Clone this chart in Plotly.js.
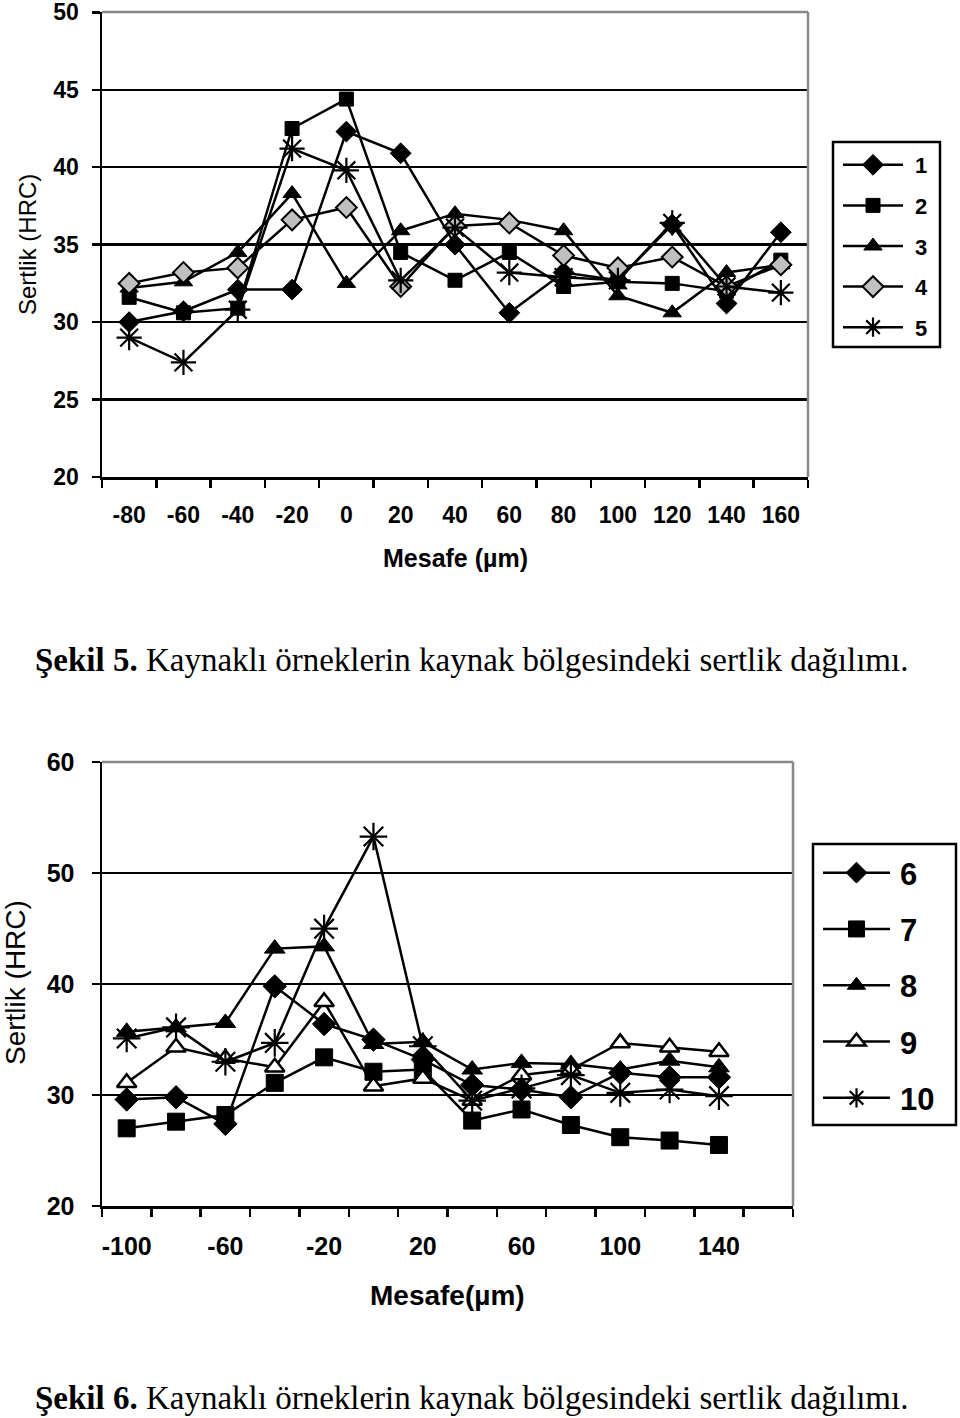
<!DOCTYPE html>
<html><head><meta charset="utf-8">
<script src="https://cdn.plot.ly/plotly-3.0.1.min.js"></script>
<style>html,body{margin:0;padding:0;background:#fff}</style>
</head><body><div id="chart" style="width:960px;height:1418px"></div>
<script>
// ---- Figure 5 data ----
const xTop = [-80,-60,-40,-20,0,20,40,60,80,100,120,140,160];
const s1 = [30.0,30.7,32.1,32.1,42.3,40.9,35.0,30.6,33.2,32.7,36.3,31.2,35.8];
const s2 = [31.6,30.6,30.9,42.5,44.4,34.5,32.7,34.5,32.3,32.6,32.5,32.0,34.0];
const s3 = [32.2,32.6,34.5,38.3,32.5,35.9,37.0,36.6,35.9,31.7,30.6,33.2,33.7];
const s4 = [32.5,33.2,33.5,36.6,37.4,32.3,36.2,36.4,34.3,33.5,34.2,32.3,33.7];
const s5 = [29.0,27.4,30.8,41.2,39.8,32.7,36.1,33.2,32.9,32.7,36.4,32.3,31.9];
const namesTop = ["1","2","3","4","5"];
const yTicksTop = [20,25,30,35,40,45,50];

// ---- Figure 6 data ----
const xBot = [-100,-80,-60,-40,-20,0,20,40,60,80,100,120,140];
const s6 = [29.6,29.8,27.4,39.8,36.4,35.0,33.2,30.9,30.5,29.8,32.0,31.6,31.6];
const s7 = [27.0,27.6,28.2,31.1,33.4,32.1,32.3,27.7,28.7,27.3,26.2,25.9,25.5];
const s8 = [35.7,36.1,36.5,43.2,43.4,34.6,34.8,32.3,32.9,32.8,32.3,33.1,32.5];
const s9 = [31.1,34.3,33.3,32.5,38.4,30.8,31.5,29.5,31.8,32.3,34.7,34.3,33.9];
const s10 = [35.1,36.1,33.0,34.7,45.0,53.3,34.4,29.5,30.6,31.8,30.2,30.5,29.9];
const namesBot = ["6","7","8","9","10"];
const xBotLabels = [-100,-60,-20,20,60,100,140];
const yTicksBot = [20,30,40,50,60];

const W = 960, H = 1418;
const px = v => v / W;
const py = v => (H - v) / H;

const sans = "Liberation Sans, Arial, sans-serif";
const serif = "Liberation Serif, Times New Roman, serif";

const stylesTop = [
  {symbol:"diamond", size:16, color:"#000", line:{color:"#000", width:1}},
  {symbol:"square", size:14, color:"#000", line:{color:"#000", width:1}},
  {symbol:"triangle-up", size:16, color:"#000", line:{color:"#000", width:1}},
  {symbol:"diamond", size:16, color:"#c0c0c0", line:{color:"#000", width:2}},
  {symbol:"asterisk-open", size:21, color:"#000", line:{color:"#000", width:2.2}}
];
const stylesBot = [
  {symbol:"diamond", size:18, color:"#000", line:{color:"#000", width:1}},
  {symbol:"square", size:17, color:"#000", line:{color:"#000", width:1}},
  {symbol:"triangle-up", size:18, color:"#000", line:{color:"#000", width:1}},
  {symbol:"triangle-up", size:17, color:"#fff", line:{color:"#000", width:2.5}},
  {symbol:"asterisk-open", size:23, color:"#000", line:{color:"#000", width:2.2}}
];

const traces = [];
[s1,s2,s3,s4,s5].forEach((s,i) => traces.push({
  x: xTop, y: s, name: namesTop[i], type: "scatter", mode: "lines+markers",
  xaxis: "x", yaxis: "y", legend: "legend", legendgroup: "t"+i,
  line: {color:"#000", width:2.5}, marker: stylesTop[i]
}));
[s6,s7,s8,s9,s10].forEach((s,i) => traces.push({
  x: xBot, y: s, name: namesBot[i], type: "scatter", mode: "lines+markers",
  xaxis: "x2", yaxis: "y2", legend: "legend2", legendgroup: "b"+i,
  line: {color:"#000", width:2.5}, marker: stylesBot[i]
}));

const axBase = {
  showline: true, linecolor: "#000", linewidth: 2.5, zeroline: false,
  color: "#000"
};

const layout = {
  width: W, height: H,
  margin: {l:0, r:0, t:0, b:0},
  paper_bgcolor: "#fff", plot_bgcolor: "#fff",
  showlegend: true,
  xaxis: Object.assign({}, axBase, {
    domain: [px(102), px(808)], anchor: "y", range: [-90, 170],
    tickmode: "array", tickvals: xTop, ticktext: xTop.map(String),
    ticks: "", showgrid: false,
    ticklabelstandoff: 16,
    tickfont: {family: sans, size: 23, color: "#000", weight: "bold"},
    minor: {ticks: "outside", tickmode: "linear", tick0: -90, dtick: 20,
            ticklen: 8, tickwidth: 2.5, tickcolor: "#000", showgrid: false}
  }),
  yaxis: Object.assign({}, axBase, {
    domain: [py(477), py(12)], anchor: "x", range: [20, 50.02],
    tickmode: "array", tickvals: yTicksTop, ticks: "outside", ticklen: 8,
    tickwidth: 2.5, tickcolor: "#000", ticklabeloverflow: "allow",
    showgrid: true, gridcolor: "#000", gridwidth: 2.5,
    ticklabelstandoff: 8,
    tickfont: {family: sans, size: 23, color: "#000", weight: "bold"}
  }),
  xaxis2: Object.assign({}, axBase, {
    domain: [px(102), px(793)], anchor: "y2", range: [-110, 170],
    tickmode: "array", tickvals: xBotLabels, ticktext: xBotLabels.map(String),
    ticks: "", showgrid: false,
    ticklabelstandoff: 16,
    tickfont: {family: sans, size: 25, color: "#000", weight: "bold"},
    minor: {ticks: "outside", tickmode: "linear", tick0: -110, dtick: 20,
            ticklen: 8, tickwidth: 2.5, tickcolor: "#000", showgrid: false}
  }),
  yaxis2: Object.assign({}, axBase, {
    domain: [py(1206), py(762)], anchor: "x2", range: [20, 60.02],
    tickmode: "array", tickvals: yTicksBot, ticks: "outside", ticklen: 8,
    tickwidth: 2.5, tickcolor: "#000", ticklabeloverflow: "allow",
    showgrid: true, gridcolor: "#000", gridwidth: 2.5,
    ticklabelstandoff: 12,
    tickfont: {family: sans, size: 25, color: "#000", weight: "bold"}
  }),
  legend: {
    x: px(835), y: py(144), xanchor: "left", yanchor: "top",
    borderwidth: 0, bgcolor: "rgba(0,0,0,0)",
    traceorder: "grouped", tracegroupgap: 9, itemwidth: 70,
    font: {family: sans, size: 22, color: "#000", weight: "bold"}
  },
  legend2: {
    x: px(815), y: py(846), xanchor: "left", yanchor: "top",
    borderwidth: 0, bgcolor: "rgba(0,0,0,0)",
    traceorder: "grouped", tracegroupgap: 13, itemwidth: 75,
    font: {family: sans, size: 31, color: "#000", weight: "bold"}
  },
  shapes: [
    {type:"line", xref:"x domain", yref:"y domain", x0:1, x1:1, y0:0, y1:1, line:{color:"#888", width:2.5}},
    {type:"line", xref:"x domain", yref:"y domain", x0:0, x1:1, y0:1, y1:1, line:{color:"#888", width:2.5}},
    {type:"line", xref:"x2 domain", yref:"y2 domain", x0:1, x1:1, y0:0, y1:1, line:{color:"#888", width:2.5}},
    {type:"line", xref:"x2 domain", yref:"y2 domain", x0:0, x1:1, y0:1, y1:1, line:{color:"#888", width:2.5}},
    // legend frames
    {type:"rect", xref:"paper", yref:"paper", x0:px(833), x1:px(940), y0:py(347), y1:py(142),
     line:{color:"#000", width:2.5}, fillcolor:"rgba(0,0,0,0)"},
    {type:"rect", xref:"paper", yref:"paper", x0:px(813), x1:px(956), y0:py(1125), y1:py(844),
     line:{color:"#000", width:2.5}, fillcolor:"rgba(0,0,0,0)"}
  ],
  annotations: [
    {text: "Sertlik (HRC)", xref:"paper", yref:"paper", x: px(28), y: py(245),
     textangle: -90, showarrow: false, xanchor:"center", yanchor:"middle",
     font: {family: sans, size: 24, color: "#000"}},
    {text: "<b>Mesafe (µm)</b>", xref:"paper", yref:"paper", x: px(455), y: py(558),
     showarrow: false, xanchor:"center", yanchor:"middle",
     font: {family: sans, size: 25, color: "#000"}},
    {text: "<b>Şekil 5.</b> Kaynaklı örneklerin kaynak bölgesindeki sertlik dağılımı.",
     xref:"paper", yref:"paper", x: px(33), y: py(660), showarrow: false,
     xanchor:"left", yanchor:"middle",
     font: {family: serif, size: 33, color: "#000"}},
    {text: "Sertlik (HRC)", xref:"paper", yref:"paper", x: px(16), y: py(983),
     textangle: -90, showarrow: false, xanchor:"center", yanchor:"middle",
     font: {family: sans, size: 28, color: "#000"}},
    {text: "<b>Mesafe(µm)</b>", xref:"paper", yref:"paper", x: px(447), y: py(1295),
     showarrow: false, xanchor:"center", yanchor:"middle",
     font: {family: sans, size: 28, color: "#000"}},
    {text: "<b>Şekil 6.</b> Kaynaklı örneklerin kaynak bölgesindeki sertlik dağılımı.",
     xref:"paper", yref:"paper", x: px(33), y: py(1398), showarrow: false,
     xanchor:"left", yanchor:"middle",
     font: {family: serif, size: 33, color: "#000"}}
  ]
};

// Lengthen legend sample lines to match the Excel-style legend
function styleLegend(gd, cls, x0, len) {
  gd.querySelectorAll("g." + cls + " g.traces").forEach(tr => {
    tr.querySelectorAll("g.legendlines path").forEach(p => p.setAttribute("d", "M" + x0 + ",0h" + len));
    tr.querySelectorAll("g.legendsymbols path.scatterpts").forEach(p =>
      p.setAttribute("transform", "translate(" + (x0 + len / 2) + ",0)"));
  });
}

Plotly.newPlot("chart", traces, layout, {displayModeBar: false, staticPlot: true}).then(gd => {
  styleLegend(gd, "legend", 8, 60);
  styleLegend(gd, "legend2", 8, 67);
});
</script>
</body></html>
